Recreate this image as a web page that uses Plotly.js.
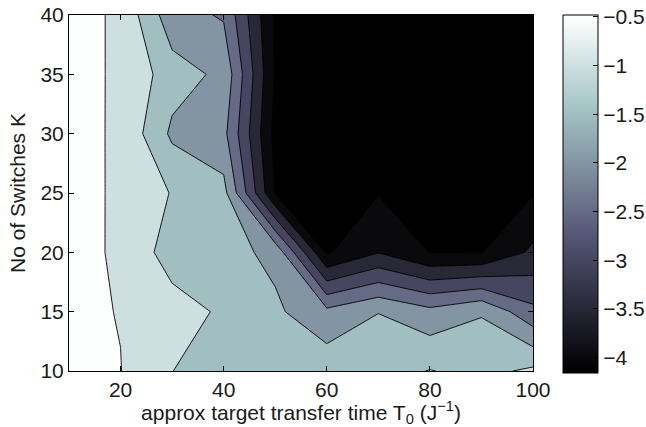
<!DOCTYPE html>
<html><head><meta charset="utf-8">
<script src="https://cdn.plot.ly/plotly-3.0.1.min.js"></script>
<style>html,body{margin:0;padding:0;background:#fff}#chart{width:646px;height:427px}</style>
</head><body><div id="chart"></div>
<script>
// approx target transfer time T0 (columns) and number of switches K (rows)
const T0 = [10, 20, 30, 40, 50, 60, 70, 80, 90, 100];
const K = [10, 15, 20, 25, 30, 35, 40];
// values, one array per row K
const zK10 = [-0.40, -0.49, -0.995, -1.20, -1.20, -1.185, -1.20, -0.98, -1.156, -0.90];
const zK15 = [-0.408, -0.515, -0.77, -1.08, -1.41, -1.87, -1.51, -1.85, -1.538, -2.37];
const zK20 = [-0.417, -0.536, -1.25, -1.32, -1.625, -4.06, -3.52, -4.01, -4.02, -3.40];
const zK25 = [-0.423, -0.533, -1.03, -1.338, -4.03, -4.10, -4.02, -4.10, -4.06, -4.025];
const zK30 = [-0.377, -0.553, -1.594, -1.86, -4.15, -4.12, -4.14, -4.15, -4.13, -4.10];
const zK35 = [-0.467, -0.514, -1.286, -1.61, -4.05, -4.13, -4.15, -4.16, -4.14, -4.12];
const zK40 = [-0.30, -0.585, -1.805, -2.052, -4.07, -4.12, -4.14, -4.15, -4.14, -4.13];
// contour levels and colour-bar range
const levelStart = -4, levelEnd = -0.5, levelStep = 0.5;
const cMin = -4.16, cMax = -0.48;
// tick labels
const xTicks = [20, 40, 60, 80, 100];
const yTicks = [10, 15, 20, 25, 30, 35, 40];
const cbTicks = [-4, -3.5, -3, -2.5, -2, -1.5, -1, -0.5];
const cbTickText = cbTicks.map(v => String(v).replace('-', '\u2212'));

const zRows = [zK10, zK15, zK20, zK25, zK30, zK35, zK40];

function clip(v) { return Math.max(0, Math.min(1, v)); }
function bone(t) {
  t = clip(t);
  const r = (7 * t + clip((t - 0.75) / 0.25)) / 8;
  const g = (7 * t + clip((t - 0.375) / 0.375)) / 8;
  const b = (7 * t + clip(t / 0.375)) / 8;
  return 'rgb(' + Math.round(r * 255) + ',' + Math.round(g * 255) + ',' + Math.round(b * 255) + ')';
}
const tOf = v => (v - cMin) / (cMax - cMin);
const boneScale = [];
for (let i = 0; i <= 64; i++) boneScale.push([i / 64, bone(i / 64)]);

const levels = [];
for (let v = levelStart; v <= levelEnd + 1e-9; v += levelStep) levels.push(v);
const bandLow = [cMin].concat(levels);
const fillScale = bandLow.map((v, i) => [i / (bandLow.length - 1), bone(tOf(v))]);

const px = [], py = [], pz = [];
zRows.forEach((row, j) => row.forEach((v, i) => { px.push(T0[i]); py.push(K[j]); pz.push(v); }));

const FONT = 'Liberation Sans, Arial, Helvetica, sans-serif';
const fontSize = 21;
const textColor = '#1a1a1a';

const contour = {
  type: 'contour', x: T0, y: K, z: zRows,
  autocontour: false,
  contours: { start: levelStart, end: levelEnd, size: levelStep, coloring: 'fill', showlines: true },
  colorscale: fillScale,
  line: { color: '#000', width: 0.9, smoothing: 0 },
  showscale: false, hoverinfo: 'skip'
};

const cbar = {
  type: 'scatter', mode: 'markers', x: px, y: py, hoverinfo: 'skip', showlegend: false,
  marker: {
    color: pz, colorscale: boneScale, cmin: cMin, cmax: cMax, opacity: 0, size: 1,
    showscale: true,
    colorbar: {
      x: (563 - 69) / 464, xanchor: 'left', y: (371 - 194) / 356, yanchor: 'middle',
      len: 358, lenmode: 'pixels', thickness: 35, thicknessmode: 'pixels',
      xpad: 0, ypad: 0, outlinewidth: 1, outlinecolor: '#000', borderwidth: 0,
      tickmode: 'array', tickvals: cbTicks, ticktext: cbTickText,
      ticks: 'inside', ticklen: 5, tickcolor: '#000', tickwidth: 1,
      tickfont: { family: FONT, size: fontSize, color: textColor }
    }
  }
};

const layout = {
  width: 646, height: 427,
  margin: { l: 69, r: 113, t: 15, b: 56, pad: 0, autoexpand: false },
  paper_bgcolor: '#fff', plot_bgcolor: '#fff',
  showlegend: false,
  font: { family: FONT, size: fontSize, color: textColor },
  xaxis: {
    range: [10, 100], tickmode: 'array', tickvals: xTicks,
    ticks: 'inside', ticklen: 5, tickcolor: '#000', tickwidth: 1,
    showline: true, linecolor: '#000', linewidth: 1, mirror: 'ticks',
    showgrid: false, zeroline: false,
    tickfont: { family: FONT, size: fontSize, color: textColor },
    title: { text: 'approx target transfer time T<sub>0</sub> (J<sup>\u22121</sup>)', standoff: 0,
             font: { family: FONT, size: fontSize, color: textColor } }
  },
  yaxis: {
    range: [10, 40], tickmode: 'array', tickvals: yTicks,
    ticks: 'inside', ticklen: 5, tickcolor: '#000', tickwidth: 1,
    showline: true, linecolor: '#000', linewidth: 1, mirror: 'ticks',
    showgrid: false, zeroline: false,
    tickfont: { family: FONT, size: fontSize, color: textColor },
    title: { text: 'No of Switches K', standoff: 9,
             font: { family: FONT, size: fontSize, color: textColor } }
  }
};

Plotly.newPlot('chart', [contour, cbar], layout, { displayModeBar: false, staticPlot: true });
</script></body></html>
